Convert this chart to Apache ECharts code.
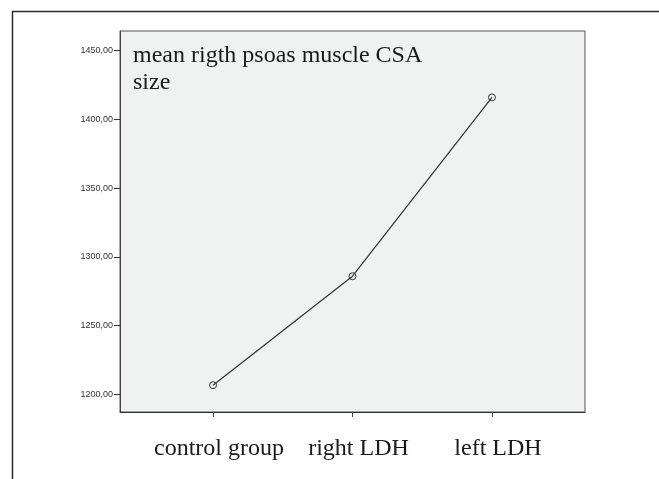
<!DOCTYPE html>
<html>
<head>
<meta charset="utf-8">
<script src="https://cdn.jsdelivr.net/npm/echarts@6/dist/echarts.min.js"></script>
<style>
  html, body { margin: 0; padding: 0; background: #fff; }
  #container { width: 659px; height: 479px; }
</style>
</head>
<body>
<div id="container"></div>
<script>
// groups on the x axis
var categories = ['control group', 'right LDH', 'left LDH'];
// mean right psoas muscle CSA per group
var meanCSA = [1206.6, 1285.9, 1416.0];
// y tick labels
var yTicks = [1200, 1250, 1300, 1350, 1400, 1450];

var dom = document.getElementById('container');
var myChart = echarts.init(dom);

var points = [];
for (var i = 0; i < meanCSA.length; i++) {
    points.push([i, meanCSA[i]]);
}

var option = {
    animation: false,
    backgroundColor: '#fff',
    graphic: [
        {
            // outer frame, cut off at the right and bottom like the source picture
            type: 'rect',
            left: 10, top: 9,
            shape: { width: 720, height: 520 },
            style: { fill: 'none', stroke: '#2a2a2a', lineWidth: 1.5 },
            silent: true,
            z: 0
        }
    ],
    title: {
        text: 'mean rigth psoas muscle CSA\nsize',
        left: 128,
        top: 37,
        textStyle: {
            fontFamily: 'Liberation Serif',
            fontWeight: 'normal',
            fontSize: 24,
            lineHeight: 27,
            color: '#1a1a1a'
        }
    },
    grid: {
        left: 120,
        top: 31,
        right: 74,
        bottom: 67,
        show: true,
        backgroundColor: '#f0f1f1',
        borderColor: '#555',
        borderWidth: 1
    },
    xAxis: {
        type: 'value',
        min: -0.667,
        max: 2.667,
        splitLine: { show: false },
        axisLine: { show: true, onZero: false, lineStyle: { color: '#333', width: 1 } },
        axisTick: {
            show: true,
            length: 5,
            customValues: [0, 1, 2],
            lineStyle: { color: '#444' }
        },
        axisLabel: {
            customValues: [0, 1, 2],
            margin: 25,
            padding: [0, 0, 0, 12],
            fontFamily: 'Liberation Serif',
            fontSize: 24,
            color: '#1a1a1a',
            formatter: function (v) { return categories[Math.round(v)]; }
        }
    },
    yAxis: {
        type: 'value',
        min: 1187.1,
        max: 1464.3,
        splitLine: { show: false },
        axisLine: { show: true, onZero: false, lineStyle: { color: '#444', width: 1 } },
        axisTick: {
            show: true,
            length: 6,
            customValues: yTicks,
            lineStyle: { color: '#333' }
        },
        axisLabel: {
            customValues: yTicks,
            margin: 7,
            fontFamily: 'Liberation Sans',
            fontSize: 9,
            color: '#333',
            formatter: function (v) { return v.toFixed(2).replace('.', ','); }
        }
    },
    series: [
        {
            type: 'line',
            data: points,
            symbol: 'circle',
            symbolSize: 7,
            lineStyle: { color: '#333', width: 1.2 },
            itemStyle: { color: 'rgba(0,0,0,0)', borderColor: '#333', borderWidth: 1 }
        }
    ]
};

myChart.setOption(option, true);
</script>
</body>
</html>
